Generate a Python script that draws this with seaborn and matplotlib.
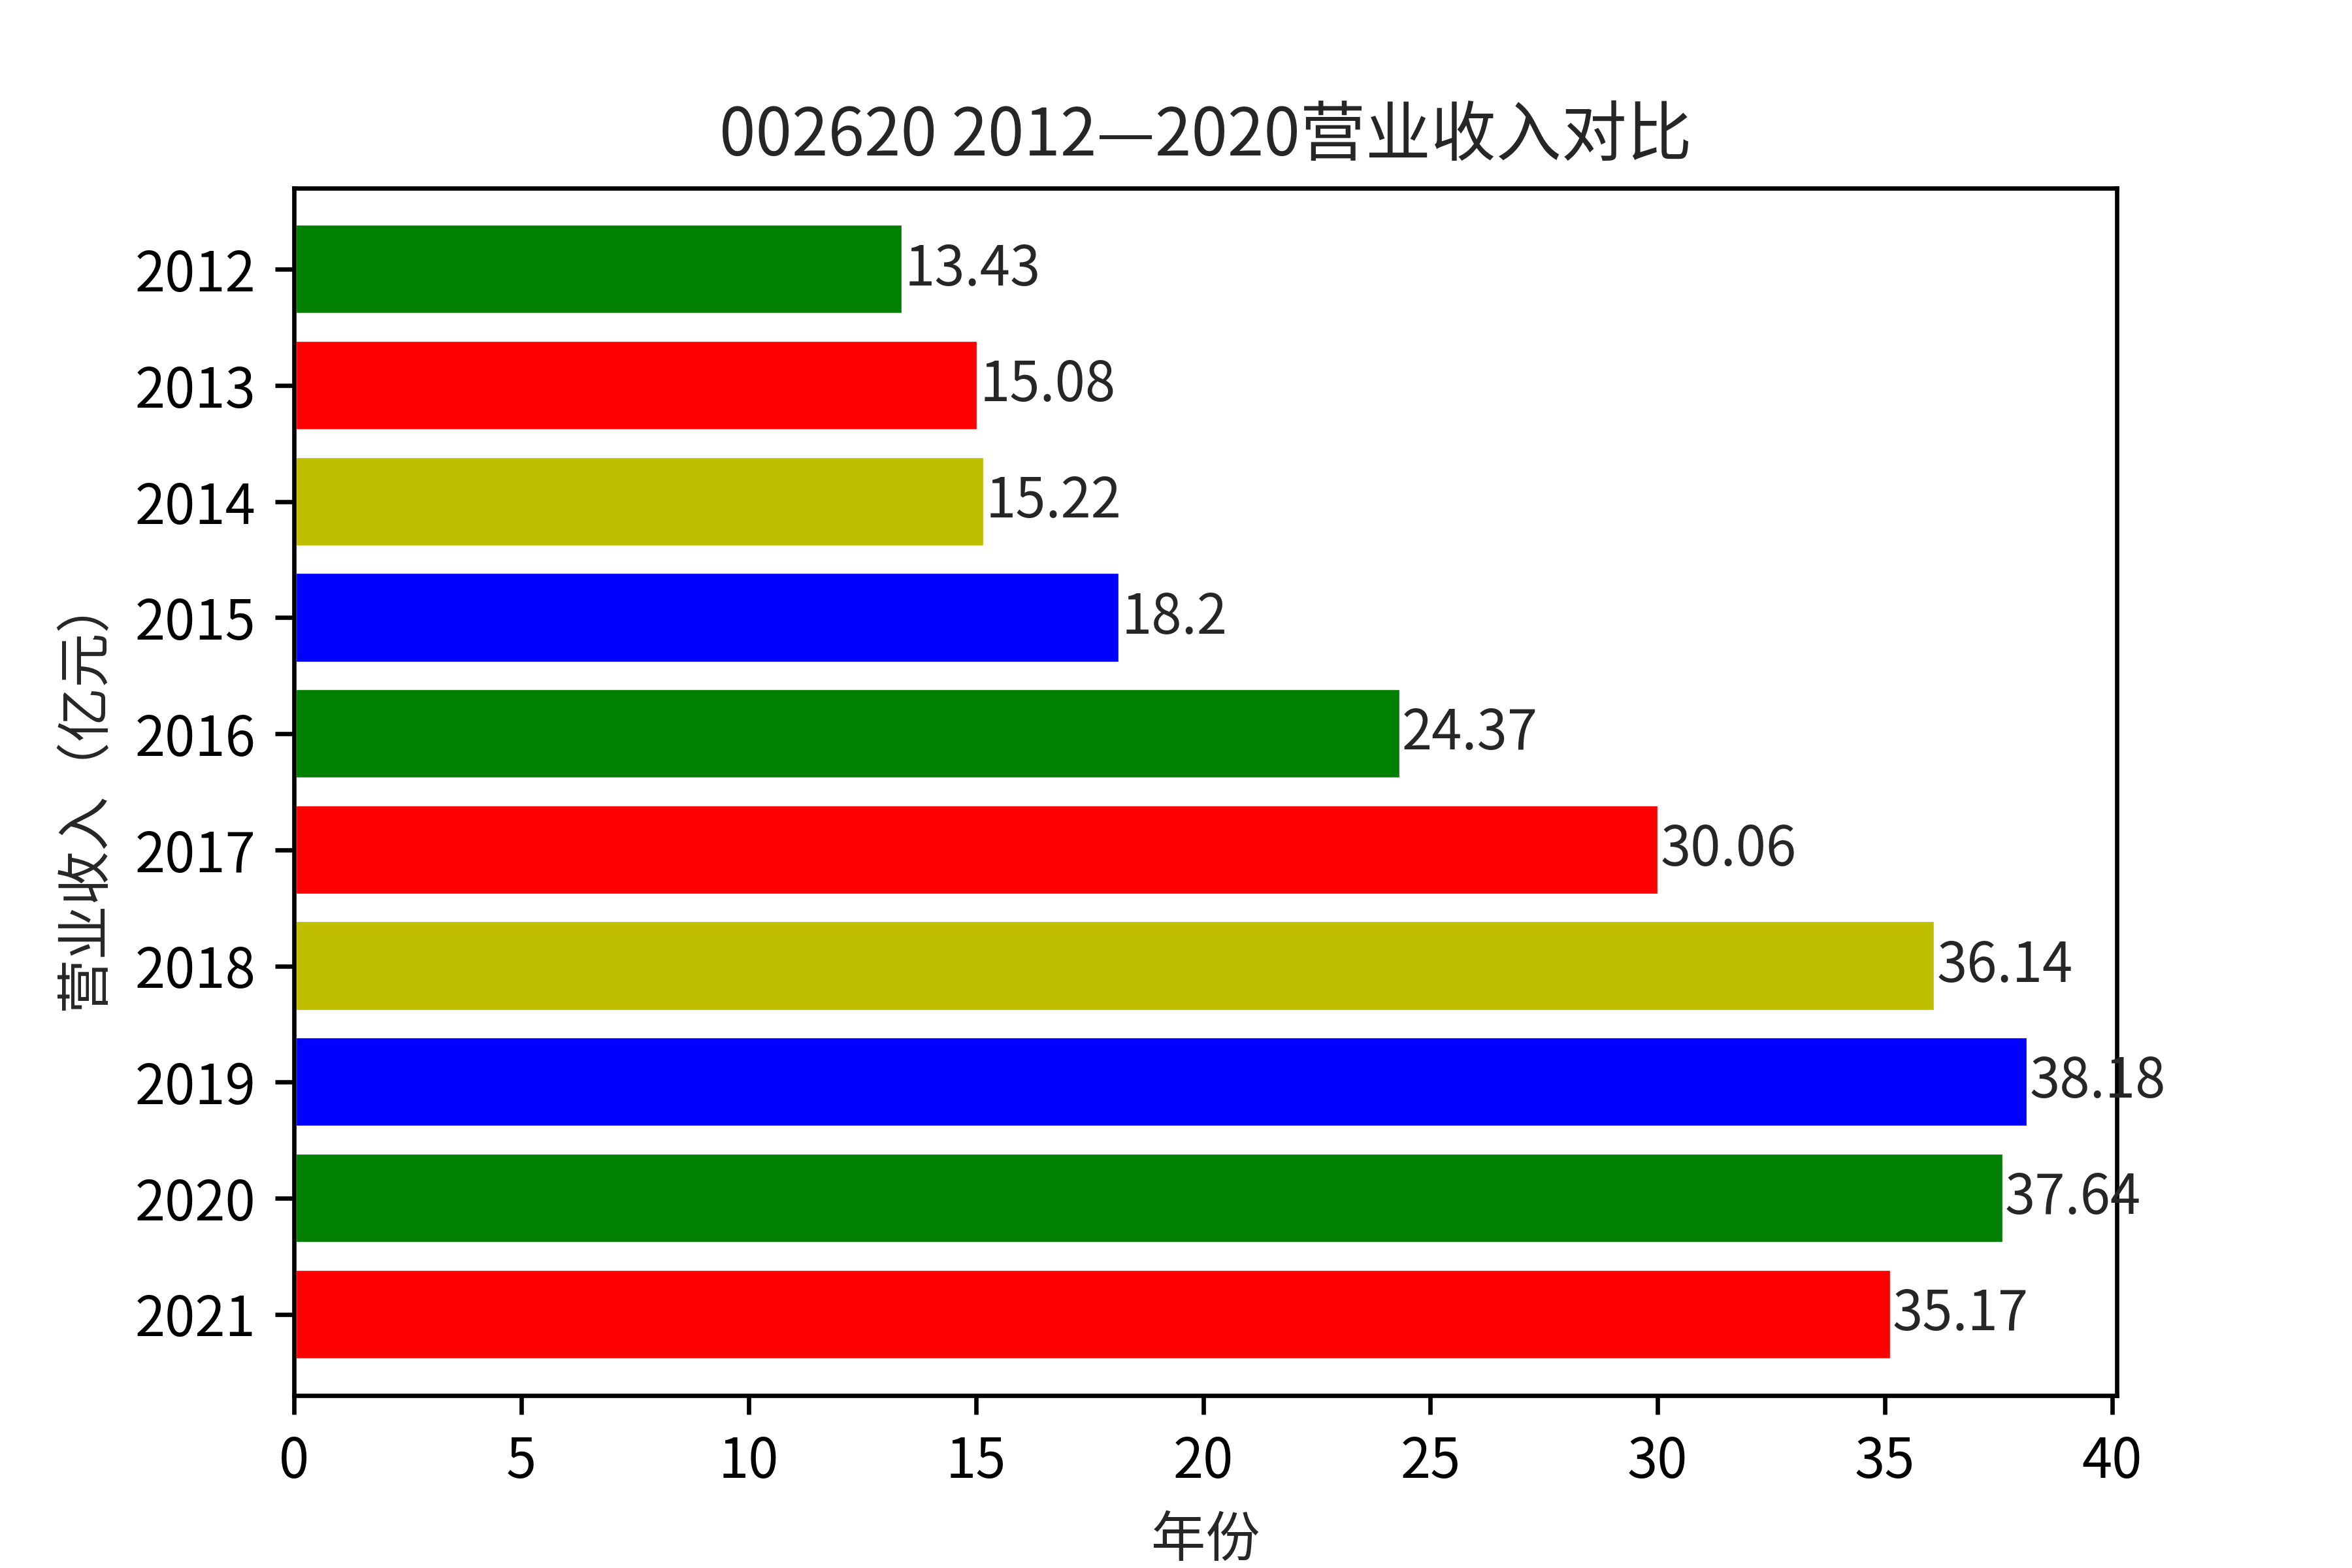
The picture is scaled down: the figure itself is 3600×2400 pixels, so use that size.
import matplotlib
matplotlib.use("Agg")
import matplotlib.pyplot as plt
import seaborn as sns
import pandas as pd

years = ["2012","2013","2014","2015","2016","2017","2018","2019","2020","2021"]
revenue = [13.43,15.08,15.22,18.2,24.37,30.06,36.14,38.18,37.64,35.17]
labels = ["13.43","15.08","15.22","18.2","24.37","30.06","36.14","38.18","37.64","35.17"]
colors = ["g","r","y","b","g","r","y","b","g","r"]

sns.set_style("ticks")
plt.rcParams['font.family'] = ['Noto Sans CJK SC', 'DejaVu Sans']
plt.rcParams['axes.unicode_minus'] = False

df = pd.DataFrame({"year": years, "rev": revenue})
fig, ax = plt.subplots(figsize=(6, 4), dpi=600)
sns.barplot(data=df, x="rev", y="year", hue="year", palette=colors, legend=False,
            width=0.8, saturation=1, ax=ax, orient="h")
for i, (v, t) in enumerate(zip(revenue, labels)):
    ax.text(v, i, t, va="center", ha="left", fontsize=10)
ax.set_xlim(0, 40.1)
ax.set_ylim(9.7, -0.7)
ax.set_title("002620 2012—2020营业收入对比")
ax.set_xlabel("年份")
ax.set_ylabel("营业收入（亿元）")
for s in ax.spines.values():
    s.set_visible(True); s.set_color("black"); s.set_linewidth(0.8)
ax.tick_params(colors="black", length=3.5, width=0.8)
fig.savefig("out.png")
